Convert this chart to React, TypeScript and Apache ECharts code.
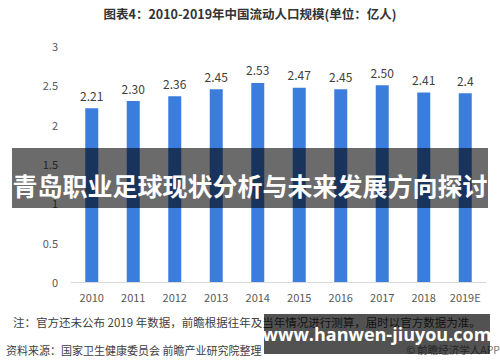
import React, { useEffect, useRef } from "react";
import * as echarts from "echarts";

const categories = ["2010", "2011", "2012", "2013", "2014", "2015", "2016", "2017", "2018", "2019E"];
const values = [2.21, 2.30, 2.36, 2.45, 2.53, 2.47, 2.45, 2.50, 2.41, 2.40];
const valueLabels = ["2.21", "2.30", "2.36", "2.45", "2.53", "2.47", "2.45", "2.50", "2.41", "2.4"];

const titleText = "图表4：2010-2019年中国流动人口规模(单位：亿人)";
const bannerText = "青岛职业足球现状分析与未来发展方向探讨";
const noteText = "注：官方还未公布 2019 年数据，前瞻根据往年及当年情况进行测算，届时以官方数据为准。";
const sourceText = "资料来源：国家卫生健康委员会 前瞻产业研究院整理";
const appText = "© 前瞻经济学人APP";
const siteText = "www.hanwen-jiuyou.com";

export default function App() {
  const ref = useRef<HTMLDivElement>(null);
  useEffect(() => {
    if (!ref.current) return;
    const chart = echarts.init(ref.current, null, { renderer: "svg" });
    const font = "'Noto Sans CJK SC', 'Noto Sans', sans-serif";
    chart.setOption({
      animation: false,
      backgroundColor: "#ffffff",
      textStyle: { fontFamily: font },
      grid: { left: 71, right: 14, top: 46, height: 236 },
      xAxis: {
        type: "category",
        data: categories,
        axisLine: { show: true, lineStyle: { color: "#d9d9d9" } },
        axisTick: { show: false },
        axisLabel: { color: "#595959", fontSize: 11, margin: 9, fontFamily: font },
      },
      yAxis: {
        type: "value",
        min: 0,
        max: 3,
        interval: 0.5,
        axisLine: { show: false },
        axisTick: { show: false },
        splitLine: { show: false },
        axisLabel: { color: "#595959", fontSize: 11, margin: 13, fontFamily: font },
      },
      series: [
        {
          type: "bar",
          data: values,
          barWidth: 13,
          itemStyle: { color: "#3b7ddd" },
          label: {
            show: true,
            position: "top",
            distance: 7,
            color: "#404040",
            fontSize: 12,
            fontFamily: font,
            formatter: (p: any) => valueLabels[p.dataIndex],
          },
        },
      ],
      graphic: [
        {
          type: "text",
          left: "center",
          top: 7,
          z: 100,
          style: { text: titleText, fill: "#333333", font: `bold 12.5px ${font}` },
        },
        {
          type: "rect",
          z: 100,
          shape: { x: 12, y: 148, width: 476, height: 60 },
          style: { fill: "rgba(0,0,0,0.58)" },
        },
        {
          type: "text",
          z: 101,
          x: 250,
          y: 185,
          style: {
            text: bannerText,
            fill: "#ffffff",
            font: `bold 25px ${font}`,
            align: "center",
            verticalAlign: "middle",
          },
        },
        {
          type: "text",
          z: 100,
          x: 13,
          y: 322,
          style: { text: noteText, fill: "#404040", font: `11.5px ${font}`, verticalAlign: "middle" },
        },
        {
          type: "text",
          z: 100,
          x: 6,
          y: 350,
          style: { text: sourceText, fill: "#404040", font: `11px ${font}`, verticalAlign: "middle" },
        },
        {
          type: "text",
          z: 100,
          x: 500,
          y: 349,
          style: { text: appText, fill: "#777777", font: `10.5px ${font}`, align: "right", verticalAlign: "middle" },
        },
        {
          type: "rect",
          z: 102,
          shape: { x: 264, y: 314, width: 226, height: 40 },
          style: { fill: "rgba(0,0,0,0.68)" },
        },
        {
          type: "text",
          z: 103,
          x: 377,
          y: 334,
          style: {
            text: siteText,
            fill: "#ffffff",
            font: `bold 18px 'Open Sans', 'DejaVu Sans', sans-serif`,
            align: "center",
            verticalAlign: "middle",
          },
        },
      ],
    });
    return () => chart.dispose();
  }, []);
  return (
    <div
      ref={ref}
      style={{ position: "absolute", left: 0, top: 0, width: 500, height: 362 }}
    />
  );
}
